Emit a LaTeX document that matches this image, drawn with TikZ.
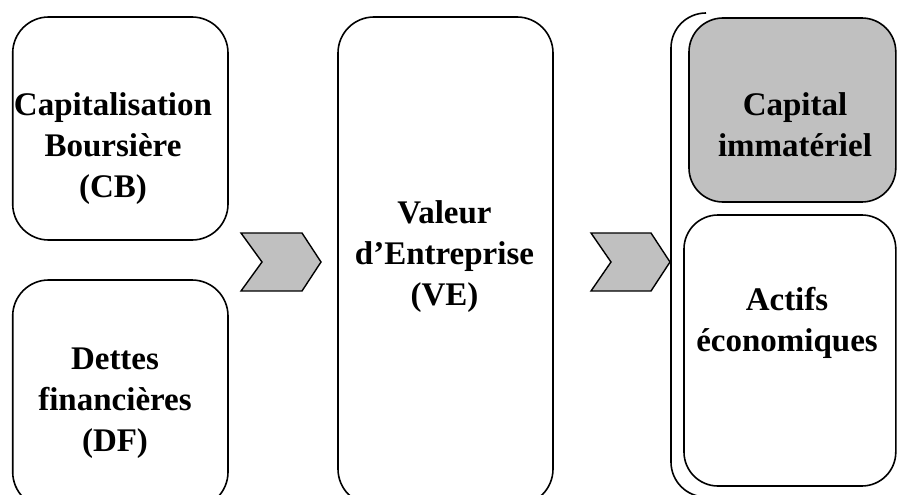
\documentclass[tikz,border=0pt]{standalone}
\usepackage{fontspec}
\setmainfont{Liberation Serif}
\definecolor{boxgray}{RGB}{192,192,192}
\begin{document}
\begin{tikzpicture}[x=1pt,y=-1pt,
  box/.style={draw=black, line width=1.6pt, rounded corners=36pt, inner sep=0pt},
  lbl/.style={align=center, font=\fontsize{33}{41}\selectfont\bfseries, inner sep=0pt},
  chev/.style={draw=black, line width=1.4pt, fill=boxgray, line join=miter}]
\useasboundingbox (0,0) rectangle (897,495);
\clip (0,0) rectangle (897,495);
\fill[white] (0,0) rectangle (897,495);
% left boxes
\draw[box] (12.7,17) rectangle (228,240);
\node[lbl] (cb) at (113,148.8) {Capitalisation\\Boursière\\(CB)};
\draw[box] (12.7,280) rectangle (228,508);
\node[lbl] (df) at (115,403.6) {Dettes\\financières\\(DF)};
% middle box
\draw[box] (338,17) rectangle (553,505);
\node[lbl] (ve) at (444.5,256.6) {Valeur\\d’Entreprise\\(VE)};
% chevrons
\draw[chev] (241,233) -- (302,233) -- (321,262) -- (302,291) -- (241,291) -- (262,262) -- cycle;
\draw[chev] (591,233) -- (651,233) -- (670,262) -- (651,291) -- (591,291) -- (611,262) -- cycle;
% bracket
\draw[line width=1.6pt, rounded corners=35pt] (706,13) -- (671,13) -- (671,497) -- (720,497);
% right boxes
\draw[box, fill=boxgray, rounded corners=34pt] (689,18) rectangle (895.8,202);
\node[lbl] (ci) at (795,124.6) {Capital\\immatériel};
\draw[box, rounded corners=34pt] (684,215) rectangle (895.8,486);
\node[lbl] (ae) at (787,322.6) {Actifs\\économiques};
\end{tikzpicture}
\end{document}
